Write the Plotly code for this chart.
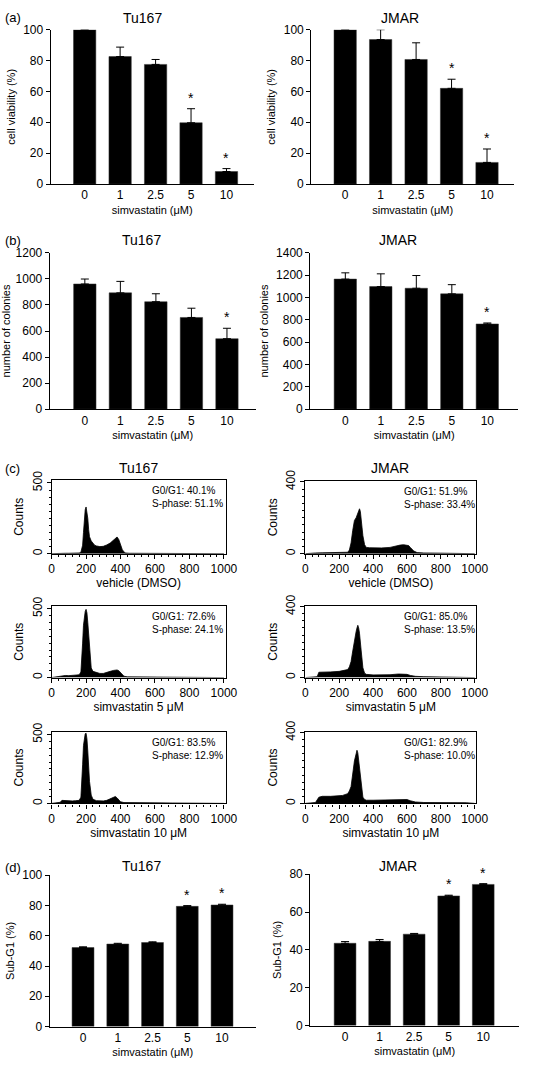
import plotly.graph_objects as go

W, H = 537, 1067
FONT = "Liberation Sans, Arial, sans-serif"

# ---------------- data ----------------
doses = ["0", "1", "2.5", "5", "10"]

via_tu167 = [100, 82.6, 77.5, 39.7, 8.1]
via_tu167_err = [0, 6.1, 3.2, 9.1, 1.9]
via_tu167_sig = [False, False, False, True, True]
via_jmar = [100, 93.6, 80.7, 62.0, 14.0]
via_jmar_err = [0, 6.4, 10.8, 5.9, 8.7]
via_jmar_sig = [False, False, False, True, True]

col_tu167 = [961, 893, 825, 704, 541]
col_tu167_err = [38, 88, 61, 71, 80]
col_tu167_sig = [False, False, False, False, True]
col_jmar = [1165, 1098, 1083, 1033, 763]
col_jmar_err = [56, 114, 114, 82, 9]
col_jmar_sig = [False, False, False, False, True]

subg1_tu167 = [52.2, 54.5, 55.5, 79.4, 80.3]
subg1_tu167_err = [0.5, 0.5, 0.5, 0.5, 0.5]
subg1_tu167_sig = [False, False, False, True, True]
subg1_jmar = [43.5, 44.5, 48.3, 68.5, 74.6]
subg1_jmar_err = [0.9, 1.0, 0.4, 0.4, 0.4]
subg1_jmar_sig = [False, False, False, True, True]

# flow cytometry histograms (channel, counts)
tu_veh_x = [0, 20, 40, 60, 80, 100, 120, 140, 160, 170, 180, 185, 190, 195, 200, 205, 210, 215, 220, 230, 240, 250, 260, 280, 300, 310, 320, 340, 360, 370, 380, 390, 400, 410, 420, 430, 450, 500, 600, 700, 800, 900, 1000]
tu_veh_y = [0, 2, 2, 3, 3, 3, 3, 4, 5, 10, 60, 150, 260, 310, 330, 300, 250, 170, 120, 90, 70, 60, 55, 50, 52, 60, 62, 75, 95, 105, 118, 100, 60, 30, 12, 5, 3, 3, 2, 2, 2, 2, 0]
tu_5_x = [0, 20, 50, 60, 80, 100, 120, 140, 160, 170, 175, 180, 185, 190, 195, 200, 205, 210, 215, 220, 225, 230, 240, 260, 280, 300, 320, 340, 360, 380, 390, 400, 410, 420, 440, 500, 600, 700, 800, 900, 1000]
tu_5_y = [0, 5, 8, 15, 15, 14, 15, 16, 20, 40, 120, 250, 380, 450, 480, 495, 470, 400, 300, 200, 120, 70, 45, 35, 30, 30, 35, 45, 52, 55, 50, 38, 20, 10, 5, 4, 3, 3, 3, 2, 0]
tu_10_x = [0, 20, 50, 60, 80, 100, 120, 140, 160, 170, 175, 180, 185, 190, 195, 200, 205, 210, 215, 220, 230, 240, 260, 280, 300, 320, 340, 360, 370, 380, 390, 400, 420, 450, 500, 600, 700, 800, 900, 1000]
tu_10_y = [0, 5, 8, 22, 20, 18, 18, 20, 22, 45, 130, 280, 420, 490, 505, 510, 470, 380, 260, 160, 60, 30, 20, 18, 18, 22, 35, 45, 50, 40, 25, 12, 6, 5, 4, 4, 3, 3, 3, 0]

jm_veh_x = [0, 40, 60, 100, 150, 200, 250, 260, 270, 280, 290, 300, 310, 315, 320, 325, 330, 340, 350, 360, 380, 400, 450, 500, 520, 540, 560, 580, 600, 610, 620, 640, 660, 680, 700, 800, 900, 980, 1000]
jm_veh_y = [0, 0, 4, 5, 5, 6, 8, 20, 60, 130, 185, 200, 225, 245, 250, 235, 190, 100, 50, 35, 33, 32, 32, 35, 40, 45, 48, 50, 48, 45, 35, 15, 6, 4, 4, 3, 3, 3, 0]
jm_5_x = [0, 40, 70, 80, 100, 150, 200, 220, 250, 260, 270, 280, 290, 300, 305, 310, 315, 320, 330, 340, 350, 360, 400, 450, 500, 550, 600, 620, 650, 700, 800, 900, 1000]
jm_5_y = [0, 3, 5, 30, 30, 32, 35, 38, 45, 60, 90, 150, 220, 260, 280, 295, 280, 250, 150, 55, 25, 18, 15, 15, 16, 20, 18, 12, 7, 5, 4, 3, 0]
jm_10_x = [0, 40, 60, 80, 100, 150, 200, 220, 250, 260, 270, 280, 290, 300, 305, 310, 320, 330, 340, 350, 360, 400, 450, 500, 550, 600, 620, 650, 700, 800, 900, 950, 1000]
jm_10_y = [0, 3, 5, 35, 40, 40, 42, 45, 55, 70, 95, 170, 240, 280, 300, 285, 210, 110, 35, 22, 18, 18, 20, 22, 24, 22, 15, 8, 5, 5, 5, 4, 0]

phase_text = {
    "tu_veh": ("G0/G1: 40.1%", "S-phase: 51.1%"),
    "tu_5": ("G0/G1: 72.6%", "S-phase: 24.1%"),
    "tu_10": ("G0/G1: 83.5%", "S-phase: 12.9%"),
    "jm_veh": ("G0/G1: 51.9%", "S-phase: 33.4%"),
    "jm_5": ("G0/G1: 85.0%", "S-phase: 13.5%"),
    "jm_10": ("G0/G1: 82.9%", "S-phase: 10.0%"),
}

# ---------------- helpers ----------------
def px(x):
    return x / W

def py(y):
    return 1 - y / H

fig = go.Figure()
layout = {}
annotations = []
TICK = 12
TITLE = 11

def axname(i):
    return ("xaxis" if i == 1 else f"xaxis{i}"), ("yaxis" if i == 1 else f"yaxis{i}")

def ref(i):
    return ("x" if i == 1 else f"x{i}"), ("y" if i == 1 else f"y{i}")

def bar_panel(i, x0, x1, y0, y1, vals, errs, sig, yrange, dtick, ytitle, xrng):
    xa, ya = axname(i)
    xr, yr = ref(i)
    fig.add_trace(go.Bar(x=doses, y=vals, width=0.63, marker=dict(color="black", line=dict(color="#333", width=0.5)),
                         error_y=dict(type="data", symmetric=False, array=errs, arrayminus=[0]*len(errs),
                                      color="black", thickness=1, width=4),
                         xaxis=xr, yaxis=yr, showlegend=False, cliponaxis=False))
    layout[xa] = dict(domain=[px(x0), px(x1)], anchor=yr, type="category", range=xrng,
                      showline=True, linecolor="black", linewidth=1, ticks="", showgrid=False,
                      tickfont=dict(size=TICK, color="black"),
                      title=dict(text="simvastatin (μM)", font=dict(size=TITLE, color="black"), standoff=4))
    layout[ya] = dict(domain=[py(y1), py(y0)], anchor=xr, range=yrange, dtick=dtick,
                      showline=True, linecolor="black", linewidth=1, ticks="outside", ticklen=4,
                      tickcolor="black", showgrid=False, zeroline=False,
                      tickfont=dict(size=TICK, color="black"),
                      title=dict(text=ytitle, font=dict(size=TITLE, color="black"), standoff=5))
    for k, (v, e, s) in enumerate(zip(vals, errs, sig)):
        if s:
            annotations.append(dict(x=k, y=v + e, xref=xr, yref=yr, text="*", showarrow=False,
                                    yanchor="bottom", yshift=1, font=dict(size=14, color="black")))

def hist_panel(i, x0, x1, y0, y1, hx, hy, ymax, ytick, xtitle, texts):
    xa, ya = axname(i)
    xr, yr = ref(i)
    fig.add_trace(go.Scatter(x=hx, y=hy, mode="lines", fill="tozeroy", fillcolor="black",
                             line=dict(color="black", width=0.8), xaxis=xr, yaxis=yr, showlegend=False))
    layout[xa] = dict(domain=[px(x0), px(x1)], anchor=yr, range=[0, 1010],
                      tickvals=[0, 200, 400, 600, 800, 1000],
                      showline=True, mirror=True, linecolor="black", linewidth=1.2,
                      ticks="outside", ticklen=4, tickcolor="black", showgrid=False, zeroline=False,
                      minor=dict(ticks="outside", ticklen=2, dtick=40, tickcolor="black"),
                      tickfont=dict(size=TICK, color="black"),
                      title=dict(text=xtitle, font=dict(size=TITLE + 1, color="black"), standoff=2))
    layout[ya] = dict(domain=[py(y1), py(y0)], anchor=xr, range=[0, ymax], tickvals=[0, ytick],
                      tickangle=-90, showline=True, mirror=True, linecolor="black", linewidth=1.2,
                      ticks="outside", ticklen=4, tickcolor="black", showgrid=False, zeroline=False,
                      minor=dict(ticks="outside", ticklen=2, dtick=ytick / 10, tickcolor="black"),
                      tickfont=dict(size=TICK, color="black"),
                      title=dict(text="Counts", font=dict(size=TITLE + 1, color="black"), standoff=4))
    annotations.append(dict(x=0.565, y=0.96, xref=f"{xr} domain", yref=f"{yr} domain",
                            text=texts[0] + "<br>" + texts[1], showarrow=False, align="left",
                            xanchor="left", yanchor="top", font=dict(size=10, color="black")))

# ---------------- panels ----------------
bar_panel(1, 49, 258, 19, 176, via_tu167, via_tu167_err, via_tu167_sig, [0, 100], 20, "cell viability (%)", [-0.96, 4.77])
bar_panel(2, 317, 526, 19, 176, via_jmar, via_jmar_err, via_jmar_sig, [0, 100], 20, "cell viability (%)", [-0.96, 4.77])
bar_panel(3, 48, 260, 246, 405, col_tu167, col_tu167_err, col_tu167_sig, [0, 1200], 200, "number of colonies", [-0.99, 4.81])
bar_panel(4, 316, 530, 246, 405, col_jmar, col_jmar_err, col_jmar_sig, [0, 1400], 200, "number of colonies", [-0.99, 4.87])

hist_panel(5, 50, 229, 477, 552, tu_veh_x, tu_veh_y, 521, 500, "vehicle (DMSO)", phase_text["tu_veh"])
hist_panel(6, 50, 229, 605, 678, tu_5_x, tu_5_y, 521, 500, "simvastatin 5 μM", phase_text["tu_5"])
hist_panel(7, 50, 229, 733, 806, tu_10_x, tu_10_y, 521, 500, "simvastatin 10 μM", phase_text["tu_10"])
hist_panel(8, 311, 487, 478, 552, jm_veh_x, jm_veh_y, 405, 400, "vehicle (DMSO)", phase_text["jm_veh"])
hist_panel(9, 311, 487, 605, 678, jm_5_x, jm_5_y, 405, 400, "simvastatin 5 μM", phase_text["jm_5"])
hist_panel(10, 311, 487, 733, 806, jm_10_x, jm_10_y, 405, 400, "simvastatin 10 μM", phase_text["jm_10"])

bar_panel(11, 48, 260, 879, 1033, subg1_tu167, subg1_tu167_err, subg1_tu167_sig, [0, 100], 20, "Sub-G1 (%)", [-0.96, 4.97])
bar_panel(12, 316, 531, 878, 1032, subg1_jmar, subg1_jmar_err, subg1_jmar_sig, [0, 80], 20, "Sub-G1 (%)", [-1.01, 5.04])

# titles and panel labels
titles = [("Tu167", 143, 7), ("JMAR", 408, 7), ("Tu167", 142, 233), ("JMAR", 406, 233),
          ("Tu167", 139, 465), ("JMAR", 398, 465), ("Tu167", 142, 870), ("JMAR", 406, 870)]
for t, x, y in titles:
    annotations.append(dict(x=px(x), y=py(y), xref="paper", yref="paper", text=t, showarrow=False,
                            xanchor="center", yanchor="middle", font=dict(size=14, color="black")))
for t, y in [("(a)", 7), ("(b)", 233), ("(c)", 465), ("(d)", 871)]:
    annotations.append(dict(x=0, y=py(y), xref="paper", yref="paper", text=t, showarrow=False,
                            xanchor="left", yanchor="middle", font=dict(size=13, color="black")))

fig.update_layout(width=W, height=H, margin=dict(l=0, r=0, t=0, b=0), paper_bgcolor="white",
                  plot_bgcolor="white", font=dict(family=FONT, color="black"), annotations=annotations,
                  bargap=0.37, **layout)
fig.write_html("out.html", config={"displayModeBar": False},
               post_script="document.body.style.margin='0';document.body.style.overflow='hidden';")
